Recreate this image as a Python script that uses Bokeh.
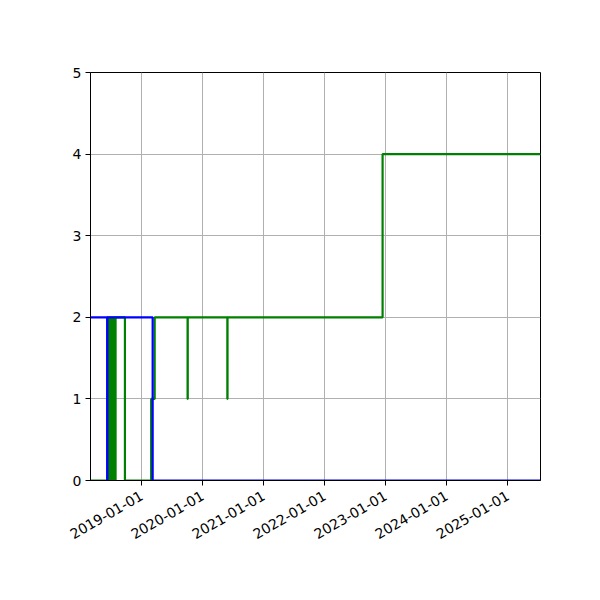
import math
import pandas as pd
from bokeh.plotting import figure
from bokeh.models import FixedTicker, DatetimeTickFormatter, Range1d
from bokeh.embed import file_html
from bokeh.resources import INLINE

# ---- data ----
green_dates = ["2018-03-01", "2018-06-10", "2018-06-14", "2018-06-18", "2018-06-22",
               "2018-06-26", "2018-06-30", "2018-07-04", "2018-07-08", "2018-07-12",
               "2018-07-16", "2018-07-20", "2018-07-24", "2018-07-29", "2018-09-23",
               "2019-02-27", "2019-03-20", "2019-10-03", "2019-10-04", "2020-05-28",
               "2020-05-29", "2022-12-13", "2025-07-15"]
green_values = [0, 2, 0, 2, 0,
                2, 0, 2, 0, 2,
                0, 2, 0, 2, 0,
                1, 2, 1, 2, 1,
                2, 4, 4]

blue_dates = ["2018-03-01", "2018-06-09", "2018-06-10", "2019-03-08", "2025-07-15"]
blue_values = [2, 0, 2, 0, 0]

x_start = "2018-03-01"
x_end = "2025-07-15"
year_ticks = ["2019-01-01", "2020-01-01", "2021-01-01", "2022-01-01",
              "2023-01-01", "2024-01-01", "2025-01-01"]
y_ticks = [0, 1, 2, 3, 4, 5]


def to_ms(d):
    return pd.Timestamp(d).value / 1e6


p = figure(width=592, height=592, x_axis_type="datetime",
           output_backend="svg", toolbar_location=None,
           min_border_left=90, min_border_right=52,
           min_border_top=72, min_border_bottom=112)
p.x_range = Range1d(to_ms(x_start), to_ms(x_end))
p.y_range = Range1d(0, 5)

p.step([pd.Timestamp(d) for d in green_dates], green_values, mode="after",
       line_color="#008000", line_width=2.2)
p.step([pd.Timestamp(d) for d in blue_dates], blue_values, mode="after",
       line_color="#0000ff", line_width=2.2)

p.xaxis.ticker = FixedTicker(ticks=[to_ms(d) for d in year_ticks])
p.xaxis.formatter = DatetimeTickFormatter(days="%Y-%m-%d", months="%Y-%m-%d",
                                          years="%Y-%m-%d")
p.xaxis.major_label_orientation = math.pi / 6
p.yaxis.ticker = FixedTicker(ticks=y_ticks)

for ax in (p.xaxis, p.yaxis):
    ax.major_label_text_font = "DejaVu Sans"
    ax.major_label_text_font_size = "14px"
    ax.major_label_text_color = "black"
    ax.axis_line_color = "black"
    ax.major_tick_line_color = "black"
    ax.major_tick_out = 5
    ax.major_tick_in = 0
    ax.minor_tick_line_color = None
p.xaxis.major_label_standoff = 9
p.yaxis.major_label_standoff = 4

p.grid.grid_line_color = "#b0b0b0"
p.grid.grid_line_width = 1
p.outline_line_color = "black"
p.outline_line_width = 1
p.background_fill_color = "white"
p.border_fill_color = "white"

open("out.html", "w").write(file_html(p, INLINE))
